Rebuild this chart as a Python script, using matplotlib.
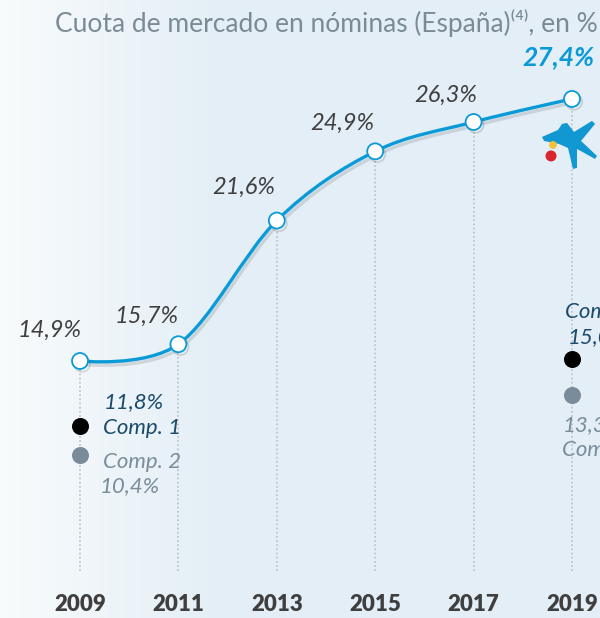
import numpy as np
import matplotlib
matplotlib.use("Agg")
import matplotlib.pyplot as plt
import matplotlib.patheffects as pe
from matplotlib.path import Path
from matplotlib.patches import PathPatch, Polygon, Circle
from matplotlib.transforms import Affine2D, ScaledTranslation

years = [2009, 2011, 2013, 2015, 2017, 2019]
share = [14.9, 15.7, 21.6, 24.9, 26.3, 27.4]
share_labels = ["14,9%", "15,7%", "21,6%", "24,9%", "26,3%", "27,4%"]

comp_years = [2009, 2019]
comp1 = [11.8, 15.0]
comp2 = [10.4, 13.3]
comp1_labels = ["11,8%", "15,0%"]
comp2_labels = ["10,4%", "13,3%"]

title = "Cuota de mercado en nóminas (España)⁽⁴⁾, en %"

BLUE = "#0b9ad8"
DARK = "#3f3f3f"
NAVY = "#1a4b6c"
GREY = "#7a8d9a"
FONT = ["Lato", "DejaVu Sans"]

fig = plt.figure(figsize=(6.0, 6.18), dpi=100)
ax = fig.add_axes([0, 0, 1, 1])
ax.set_xlim(2007.374, 2019.569)
ax.set_ylim(2.64, 32.12)
ax.axis("off")

# background: light blue with a whiter left edge
grad = np.ones((2, 256, 3))
t = np.clip(np.linspace(0, 1, 256) / 0.35, 0, 1)
left = np.array([0.975, 0.985, 0.99])
right = np.array([0.894, 0.937, 0.965])
grad[:] = left + (right - left) * t[:, None]
ax.imshow(grad, extent=[2007.374, 2019.569, 2.64, 32.12], aspect="auto", zorder=0)

# dotted guides
for x, y in zip(years, share):
    ax.plot([x, x], [4.9, y], ls=(0, (1, 1.5)), color="#b9c1c7", lw=1.2, zorder=1)

# smooth line (bezier through the points)
pts = np.column_stack([years, share]).astype(float)
verts = [pts[0]]
codes = [Path.MOVETO]
n = len(pts)
for i in range(n - 1):
    p0 = pts[i - 1] if i > 0 else None
    p1, p2 = pts[i], pts[i + 1]
    p3 = pts[i + 2] if i + 2 < n else None
    c1 = p1 + (p2 - p0) / 6 if p0 is not None else p1
    c2 = p2 - (p3 - p1) / 6 if p3 is not None else p2
    verts += [c1, c2, p2]
    codes += [Path.CURVE4] * 3
patch = PathPatch(Path(verts, codes), fill=False, ec=BLUE, lw=2.4, zorder=3,
                  path_effects=[pe.SimpleLineShadow(offset=(1.5, -2.5), alpha=0.18, shadow_color="#555555"),
                                pe.Normal()])
ax.add_patch(patch)
ax.plot(years, share, "o", ms=11.5, mfc="white", mec=BLUE, mew=1.3, zorder=4,
        path_effects=[pe.SimpleLineShadow(offset=(1.5, -2), alpha=0.2, shadow_color="#555555"), pe.Normal()])

# value labels
offsets = [(-22, 22), (-23, 20), (-24, 24), (-24, 20), (-20, 19), (-10, 30)]
for i, (x, y, lab) in enumerate(zip(years, share, share_labels)):
    last = i == len(years) - 1
    ax.annotate(lab, (x, y), xytext=offsets[i], textcoords="offset points",
                ha="center", va="center", fontsize=19 if last else 17, style="italic",
                fontweight="bold" if last else "normal",
                color=BLUE if last else DARK, family=FONT, zorder=5)

# competitors
ax.scatter(comp_years, comp1, s=150, color="black", zorder=4, lw=0)
ax.scatter(comp_years, comp2, s=150, color="#7a8c99", zorder=4, lw=0)
kw = dict(textcoords="offset points", va="center", fontsize=16, style="italic", family=FONT, zorder=5)
ax.annotate(comp1_labels[0], (comp_years[0], comp1[0]), xytext=(17, 17), color=NAVY, ha="left", **kw)
ax.annotate("Comp. 1", (comp_years[0], comp1[0]), xytext=(16.5, -1.5), color=NAVY, ha="left", **kw)
ax.annotate("Comp. 2", (comp_years[0], comp2[0]), xytext=(16.5, -4.5), color=GREY, ha="left", **kw)
ax.annotate(comp2_labels[0], (comp_years[0], comp2[0]), xytext=(14.5, -22), color=GREY, ha="left", **kw)
ax.annotate("Comp. 1", (comp_years[1], comp1[1]), xytext=(-5, 34), color=NAVY, ha="left", **kw)
ax.annotate(comp1_labels[1], (comp_years[1], comp1[1]), xytext=(-3, 16), color=NAVY, ha="left", **kw)
ax.annotate(comp2_labels[1], (comp_years[1], comp2[1]), xytext=(-7, -22), color=GREY, ha="left", **kw)
ax.annotate("Comp. 2", (comp_years[1], comp2[1]), xytext=(-7, -40), color=GREY, ha="left", **kw)

# logo (star + dots) under the last point, offsets in pixels
anchor = ScaledTranslation(years[-1], share[-1], ax.transData)
tr = Affine2D().scale(1, -1) + anchor
star = [(-30, 38), (-14, 31), (-10, 25), (-5, 24), (2, 33), (20, 22), (23, 25),
        (9, 42), (25, 57), (23, 60), (5, 50), (5, 69), (1, 70), (-4, 49), (-13, 45), (-28, 42)]
ax.add_patch(Polygon(star, closed=True, color="#1197d2", transform=tr, zorder=4, lw=0))
ax.add_patch(Circle((-19, 46), 3.2, color="#f2c23a", transform=tr, zorder=4))
ax.add_patch(Circle((-21, 57), 4.8, color="#d9262c", transform=tr, zorder=4))

# year labels
for x in years:
    ax.text(x, 14.9 - (604 - 361) / 20.96, str(x), ha="center", va="center", fontsize=16,
            fontweight="heavy", color=DARK, family=FONT)

fig.text(0.997, 0.962, title, ha="right", va="center", fontsize=19, color="#7b8b95", family=FONT)

fig.savefig("out.png", dpi=100)
